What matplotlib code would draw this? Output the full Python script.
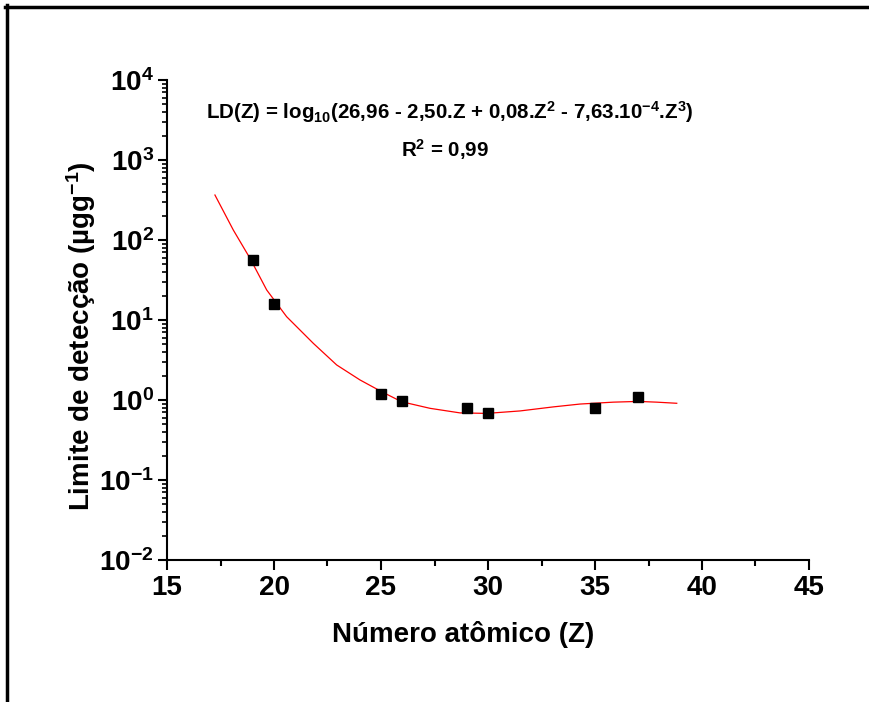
import matplotlib
matplotlib.use("Agg")
import matplotlib.pyplot as plt
from matplotlib.lines import Line2D
from matplotlib.ticker import LogLocator, LogFormatterMathtext, MultipleLocator, NullFormatter

plt.rcParams['font.family'] = ['Liberation Sans', 'DejaVu Sans']
plt.rcParams['font.weight'] = 'bold'
plt.rcParams['axes.unicode_minus'] = False
plt.rcParams['mathtext.fontset'] = 'custom'
plt.rcParams['mathtext.rm'] = 'Liberation Sans:bold'
plt.rcParams['mathtext.it'] = 'Liberation Sans:bold'
plt.rcParams['mathtext.bf'] = 'Liberation Sans:bold'
plt.rcParams['mathtext.default'] = 'regular'

# Measured detection limits
z_points = [19, 20, 25, 26, 29, 30, 35, 37]
ld_points = [56, 15.8, 1.19, 0.98, 0.79, 0.69, 0.80, 1.08]

# Fitted curve
z_fit = [17.24, 18.10, 18.88, 19.66, 20.59, 21.84, 22.93, 24.02, 25.03, 25.97,
         27.29, 28.69, 29.94, 31.5, 33.05, 34.3, 35.86, 37.03, 37.88, 38.82]
ld_fit = [365, 133, 59, 23.7, 11.0, 5.1, 2.74, 1.78, 1.27, 0.95,
          0.787, 0.69, 0.68, 0.73, 0.82, 0.89, 0.94, 0.96, 0.94, 0.91]

W, H = 869, 702
fig = plt.figure(figsize=(W / 100, H / 100), dpi=100)
ax = fig.add_axes([167 / W, (H - 560) / H, 642 / W, 480 / H])

ax.plot(z_fit, ld_fit, color='red', lw=0.9)
ax.plot(z_points, ld_points, 's', color='black', markersize=6.7, linestyle='none')

ax.set_yscale('log')
ax.set_xlim(15, 45)
ax.set_ylim(1e-2, 1e4)
ax.xaxis.set_major_locator(MultipleLocator(5))
ax.xaxis.set_minor_locator(MultipleLocator(2.5))
ax.yaxis.set_major_locator(LogLocator(base=10, numticks=20))
ax.yaxis.set_minor_locator(LogLocator(base=10, subs=range(2, 10), numticks=20))
ax.yaxis.set_minor_formatter(NullFormatter())
ax.yaxis.set_major_formatter(LogFormatterMathtext())

for s in ['top', 'right']:
    ax.spines[s].set_visible(False)
for s in ['left', 'bottom']:
    ax.spines[s].set_linewidth(1.5)

ax.tick_params(axis='both', which='major', direction='out', width=1.5, labelsize=20)
ax.tick_params(axis='x', which='major', length=7, pad=4)
ax.tick_params(axis='x', which='minor', direction='out', length=4, width=1.5)
ax.tick_params(axis='y', which='major', length=6.5, pad=3)
ax.tick_params(axis='y', which='minor', direction='out', length=3.5, width=1.2)
for lab in ax.get_xticklabels() + ax.get_yticklabels():
    lab.set_fontweight('bold')

ax.set_xlabel('Número atômico (Z)', fontsize=20, fontweight='bold')
ax.xaxis.set_label_coords((463 - 167) / 642, (560 - 621) / 480)
ax.set_ylabel('Limite de detecção (µgg$^{-1}$)', fontsize=20, fontweight='bold', ha='left')
ax.yaxis.set_label_coords((98 - 167) / 642, (560 - 511) / 480)

fig.text(450 / W, 1 - 112 / H,
         'LD(Z) = log$_{10}$(26,96 - 2,50.Z + 0,08.Z$^{2}$ - 7,63.10$^{-4}$.Z$^{3}$)',
         ha='center', va='center', fontsize=14.8, fontweight='bold')
fig.text(445 / W, 1 - 150 / H, 'R$^{2}$ = 0,99',
         ha='center', va='center', fontsize=14.8, fontweight='bold')

# Outer frame (top and left)
fig.add_artist(Line2D([5 / W, 1], [1 - 7 / H, 1 - 7 / H], color='black', lw=2.5,
                      transform=fig.transFigure))
fig.add_artist(Line2D([7 / W, 7 / W], [0, 1 - 5 / H], color='black', lw=2.5,
                      transform=fig.transFigure))

fig.savefig('out.png', dpi=100)
